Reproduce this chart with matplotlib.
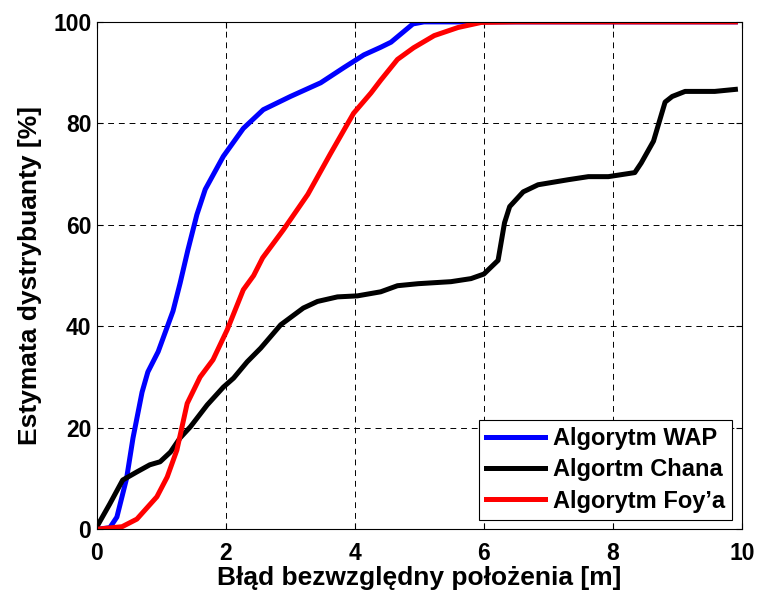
import numpy as np
import matplotlib.pyplot as plt

plt.rcParams['font.family'] = ['Liberation Sans', 'DejaVu Sans']
plt.rcParams['font.weight'] = 'bold'
plt.rcParams['font.size'] = 17

# empirical CDFs of the positioning error [m] -> [%]
wap_x = [0.0, 0.2, 0.31, 0.46, 0.56, 0.70, 0.79, 0.95, 1.18, 1.29, 1.41, 1.55, 1.68,
         1.96, 2.27, 2.58, 3.0, 3.47, 3.83, 4.14, 4.40, 4.56, 4.9, 5.07, 9.9]
wap_y = [0.0, 0.3, 2.4, 10, 18, 27, 31, 35, 43, 48.5, 55, 62, 67,
         73.5, 79, 82.7, 85.3, 88, 91, 93.5, 95, 96, 99.6, 100, 100]

chan_x = [0.0, 0.2, 0.4, 0.62, 0.82, 0.98, 1.14, 1.29, 1.45, 1.71, 1.96, 2.12, 2.33,
          2.54, 2.85, 3.2, 3.42, 3.73, 4.04, 4.40, 4.66, 4.98, 5.49, 5.8, 6.0, 6.22,
          6.32, 6.4, 6.61, 6.84, 7.31, 7.62, 7.93, 8.34, 8.44, 8.63, 8.81, 8.92,
          9.12, 9.58, 9.9]
chan_y = [0.5, 5, 9.7, 11.3, 12.7, 13.3, 15.2, 18, 20.2, 24.5, 28, 29.8, 33,
          35.7, 40.3, 43.6, 44.9, 45.8, 46, 46.8, 48, 48.4, 48.8, 49.4, 50.3, 53,
          60.4, 63.6, 66.5, 67.9, 68.9, 69.5, 69.5, 70.3, 72.2, 76.5, 84.2, 85.3,
          86.3, 86.3, 86.7]

foy_x = [0.0, 0.39, 0.62, 0.93, 1.09, 1.24, 1.40, 1.60, 1.80, 2.02, 2.27, 2.43, 2.57,
         2.89, 3.27, 3.62, 3.98, 4.25, 4.40, 4.66, 4.91, 5.23, 5.6, 5.96, 6.5, 9.9]
foy_y = [0.0, 0.5, 2, 6.4, 10.3, 15.6, 24.8, 30, 33.4, 39.3, 47.2, 50, 53.5,
         59, 66, 74, 82, 86, 88.5, 92.6, 94.9, 97.3, 98.9, 99.9, 100, 100]

fig = plt.figure(figsize=(7.57, 5.92), dpi=100)
ax = fig.add_axes([0.128, 0.106, 0.852, 0.857])

ax.plot(wap_x, wap_y, color='#0000ff', lw=3.6, label='Algorytm WAP')
ax.plot(chan_x, chan_y, color='black', lw=3.6, label='Algortm Chana')
ax.plot(foy_x, foy_y, color='#ff0000', lw=3.6, label='Algorytm Foy\u2019a')

ax.set_xlim(0, 10)
ax.set_ylim(0, 100)
ax.set_xticks(np.arange(0, 11, 2))
ax.set_yticks(np.arange(0, 101, 20))
ax.grid(True, color='black', lw=0.7, linestyle=(0, (6, 5)))
ax.tick_params(direction='in', top=True, right=True, length=4, width=0.8,
               labelsize=16.5)
ax.tick_params(axis='x', pad=9)
ax.tick_params(axis='y', pad=4)
for s in ax.spines.values():
    s.set_linewidth(0.8)

ax.set_xlabel('Błąd bezwzględny położenia [m]', fontsize=19, fontweight='bold',
              labelpad=1)
ax.set_ylabel('Estymata dystrybuanty [%]', fontsize=19, fontweight='bold',
              labelpad=8)

leg = ax.legend(loc='lower right', frameon=True, fancybox=False, framealpha=1,
                edgecolor='black', handlelength=2.5, handletextpad=0.35,
                borderpad=0.3, borderaxespad=0.4, labelspacing=0.35,
                prop={'weight': 'bold', 'size': 17})
leg.get_frame().set_linewidth(0.8)

fig.savefig('out.png', dpi=100)
